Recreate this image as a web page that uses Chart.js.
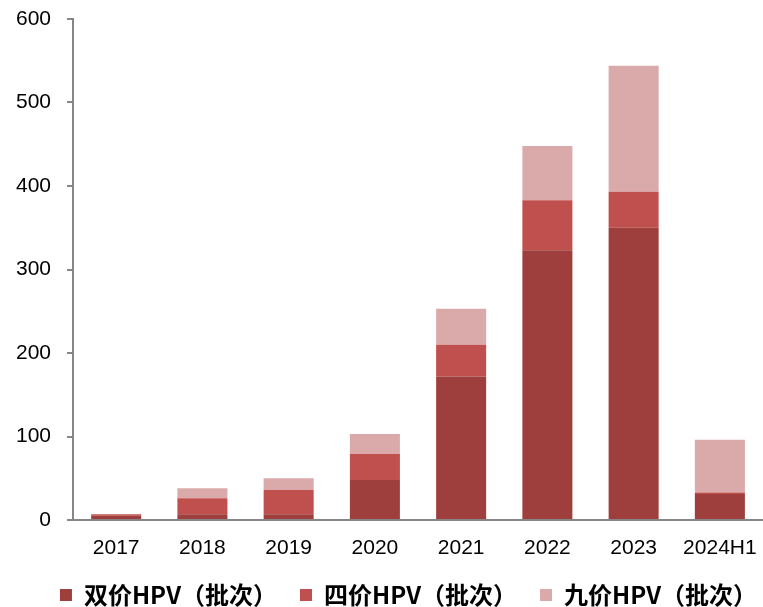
<!DOCTYPE html>
<html>
<head>
<meta charset="utf-8">
<script src="https://cdn.jsdelivr.net/npm/chart.js@4/dist/chart.umd.min.js"></script>
<style>
  html, body { margin: 0; padding: 0; background: #fff; }
  #wrap { width: 763px; height: 607px; }
</style>
</head>
<body>
<div id="wrap"><canvas id="hpv" width="763" height="607"></canvas></div>
<script>
const years = ['2017', '2018', '2019', '2020', '2021', '2022', '2023', '2024H1'];
const bivalent = [5, 7, 7, 48, 172, 323, 350, 31];
const quadrivalent = [2, 19, 29, 31, 38, 60, 43, 2];
const nonavalent = [0, 12, 14, 24, 43, 65, 151, 63];

const axisGrey = '#868686';
const latin = '"Liberation Sans", Arial, sans-serif';

// fixed legend height, and nudge the legend row to the right like the original
const legendTweak = {
    id: 'legendTweak',
    beforeInit(chart) {
        const legend = chart.legend;
        const fit = legend.fit;
        const draw = legend.draw;
        legend.fit = function () {
            fit.call(this);
            this.height = 47;
        };
        legend.draw = function (area) {
            this.ctx.save();
            this.ctx.translate(27, 0);
            draw.call(this, area);
            this.ctx.restore();
        };
    }
};

const ctx = document.getElementById('hpv').getContext('2d');
new Chart(ctx, {
    type: 'bar',
    data: {
        labels: years,
        datasets: [
            {label: '双价HPV（批次）', data: bivalent, backgroundColor: '#9E3F3E'},
            {label: '四价HPV（批次）', data: quadrivalent, backgroundColor: '#C0504D'},
            {label: '九价HPV（批次）', data: nonavalent, backgroundColor: '#DAAAAA'}
        ]
    },
    plugins: [legendTweak],
    options: {
        responsive: false,
        animation: false,
        barPercentage: 0.58,
        categoryPercentage: 1,
        layout: {padding: 0},
        plugins: {
            tooltip: {enabled: false},
            legend: {
                position: 'bottom',
                labels: {
                    color: '#000',
                    boxWidth: 12,
                    boxHeight: 12,
                    padding: 23,
                    font: {family: '"Noto Sans CJK SC", sans-serif', size: 24, weight: 'bold'}
                }
            }
        },
        scales: {
            x: {
                stacked: true,
                grid: {display: false, drawTicks: false},
                border: {color: axisGrey, width: 2},
                ticks: {color: '#000', padding: 16, font: {family: latin, size: 21}},
                afterFit(scale) {
                    scale.paddingLeft = 0;
                    scale.paddingRight = 0;
                    scale.height = 40;
                }
            },
            y: {
                stacked: true,
                min: 0,
                max: 600,
                grid: {drawOnChartArea: false, color: axisGrey, lineWidth: 2, tickLength: 6},
                border: {color: axisGrey, width: 2},
                ticks: {stepSize: 100, color: '#000', padding: 16, font: {family: latin, size: 21}},
                afterFit(scale) {
                    scale.paddingTop = 19;
                    scale.paddingBottom = 0;
                }
            }
        }
    }
});
</script>
</body>
</html>
